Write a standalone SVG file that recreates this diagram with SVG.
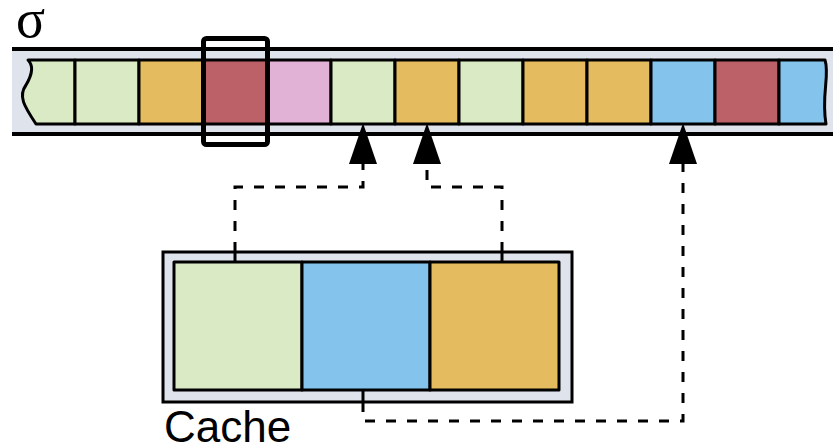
<svg xmlns="http://www.w3.org/2000/svg" width="833" height="444" viewBox="0 0 833 444">
<style>
.cell{stroke:#000;stroke-width:3;stroke-linejoin:round}
.g{fill:#D9EAC5}.o{fill:#E4BB5E}.r{fill:#BD6168}.p{fill:#E2B1D6}.b{fill:#83C3EC}
.band{fill:#DFE3EC}
.dash{fill:none;stroke:#000;stroke-width:3;stroke-dasharray:10 11}
.stub{stroke:#000;stroke-width:3}
.head{fill:#000}
</style>
<rect width="833" height="444" fill="#fff"/>
<text x="16" y="37" font-family="Liberation Serif, serif" font-size="54">σ</text>
<g id="sequence">
<rect class="band" x="12" y="49" width="821" height="85"/>
<line x1="12" y1="49" x2="833" y2="49" stroke="#000" stroke-width="4"/>
<line x1="12" y1="134" x2="833" y2="134" stroke="#000" stroke-width="4"/>
<path class="cell g" d="M28 60 H75 V124 H36 C24 106 18 96 26 85 C32 75 34 66 28 60 Z"/>
<rect class="cell g" x="75" y="60" width="64" height="64"/>
<rect class="cell o" x="139" y="60" width="64" height="64"/>
<rect class="cell r" x="203" y="60" width="64" height="64"/>
<rect class="cell p" x="267" y="60" width="64" height="64"/>
<rect class="cell g" x="331" y="60" width="64" height="64"/>
<rect class="cell o" x="395" y="60" width="64" height="64"/>
<rect class="cell g" x="459" y="60" width="64" height="64"/>
<rect class="cell o" x="523" y="60" width="64" height="64"/>
<rect class="cell o" x="587" y="60" width="64" height="64"/>
<rect class="cell b" x="651" y="60" width="64" height="64"/>
<rect class="cell r" x="715" y="60" width="64" height="64"/>
<path class="cell b" d="M779 60 H825 C830 75 821 95 826 124 H779 Z"/>
</g>
<g id="highlight">
<rect x="203.5" y="38.5" width="64" height="106" rx="3" fill="none" stroke="#000" stroke-width="5"/>
</g>
<g id="cache">
<rect class="band" x="163" y="252" width="409" height="150" stroke="#000" stroke-width="3"/>
<rect class="cell g" x="174" y="262" width="128" height="128"/>
<rect class="cell b" x="302" y="262" width="128" height="128"/>
<rect class="cell o" x="430" y="262" width="129" height="128"/>
<line class="stub" x1="235" y1="252" x2="235" y2="262"/>
<line class="stub" x1="502" y1="252" x2="502" y2="262"/>
<line class="stub" x1="363" y1="390" x2="363" y2="402"/>
<text x="164" y="442" font-family="Liberation Sans, Arial, sans-serif" font-size="44">Cache</text>
</g>
<g id="connectors">
<path class="dash" d="M235 252 V187 H363 V164"/>
<path class="dash" d="M502 252 V187 H427 V164"/>
<path class="dash" d="M363 402 V421 H683 V164"/>
<polygon class="head" points="363,123 377,164 349,164"/>
<polygon class="head" points="427,123 441,164 413,164"/>
<polygon class="head" points="683,123 697,164 669,164"/>
</g>
</svg>
